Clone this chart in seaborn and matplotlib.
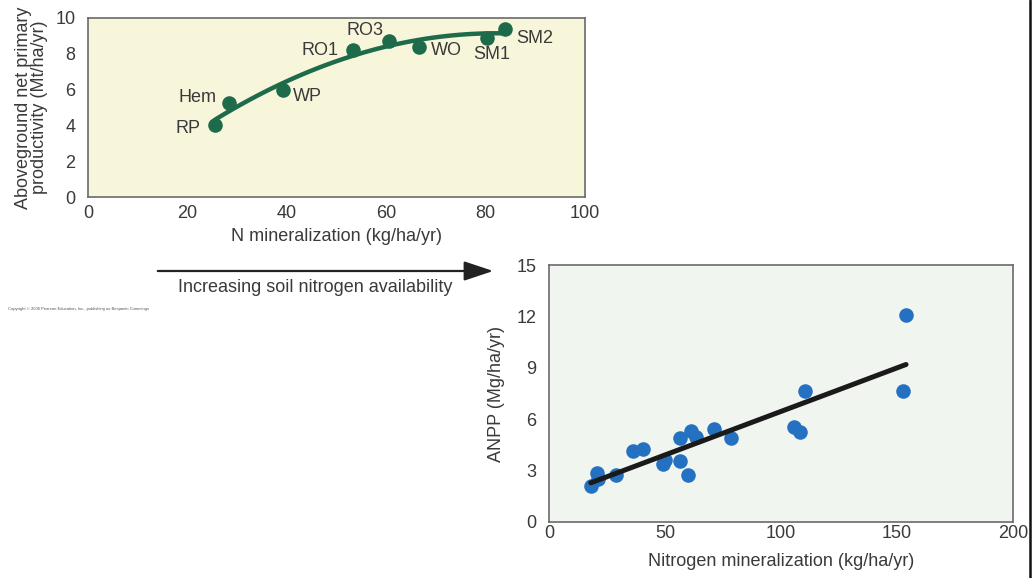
import numpy as np
import pandas as pd
import matplotlib
matplotlib.use("Agg")
import matplotlib.pyplot as plt
import seaborn as sns

# ---- data: top panel (sites) ----
site_names = ["RP", "Hem", "WP", "RO1", "RO3", "WO", "SM1", "SM2"]
site_nmin = [25.5, 28.3, 39.2, 53.3, 60.6, 66.7, 80.2, 84.0]
site_anpp = [4.0, 5.25, 6.0, 8.2, 8.7, 8.4, 8.9, 9.4]

# ---- data: bottom panel ----
nmin_b = [18.0, 20.7, 21.0, 29.0, 36.2, 40.7, 49.1, 49.9, 56.3, 56.3, 59.9,
          61.1, 63.5, 71.3, 78.4, 105.4, 108.4, 110.5, 152.4, 153.9]
anpp_b = [2.08, 2.88, 2.5, 2.76, 4.12, 4.24, 3.40, 3.63, 4.92, 3.54, 2.72,
          5.34, 4.95, 5.42, 4.92, 5.54, 5.25, 7.67, 7.67, 12.08]

top_xticks = [0, 20, 40, 60, 80, 100]
top_yticks = [0, 2, 4, 6, 8, 10]
bot_xticks = [0, 50, 100, 150, 200]
bot_yticks = [0, 3, 6, 9, 12, 15]

sns.set_theme(style="white")
plt.rcParams["font.family"] = ["Liberation Sans", "DejaVu Sans"]

GREEN = "#1d6b4a"
BLUE = "#2471c1"
TXT = "#3a3a3a"
SPINE = "#6a6a6a"

fig = plt.figure(figsize=(10.34, 5.78), dpi=100)
fig.patch.set_facecolor("white")

# ---------- top panel ----------
ax1 = fig.add_axes([88/1034, 1-197/578, 497/1034, 179/578])
ax1.set_facecolor("#f7f5da")
df1 = pd.DataFrame({"x": site_nmin, "y": site_anpp, "name": site_names})
sns.regplot(data=df1, x="x", y="y", order=2, ci=None, ax=ax1,
            scatter_kws=dict(s=110, color=GREEN, zorder=3, linewidths=0, alpha=1),
            line_kws=dict(color=GREEN, lw=3.2, zorder=2))
ax1.set_xlim(0, 100)
ax1.set_ylim(0, 10)
ax1.set_xticks(top_xticks)
ax1.set_yticks(top_yticks)
ax1.set_xlabel("N mineralization (kg/ha/yr)", fontsize=13, color=TXT, labelpad=4)
ax1.set_ylabel("Aboveground net primary\nproductivity (Mt/ha/yr)", fontsize=13,
               color=TXT, labelpad=5, linespacing=0.95)
ax1.tick_params(axis="x", direction="in", length=6, width=1, color=SPINE,
                labelsize=13, labelcolor=TXT, pad=6)
ax1.tick_params(axis="y", direction="out", length=6, width=1, color=SPINE,
                labelsize=13, labelcolor=TXT, pad=3)
for s in ax1.spines.values():
    s.set_color(SPINE)
    s.set_linewidth(1.2)

label_offsets = {"RP": (-28, -2), "Hem": (-36, 4), "WP": (7, -5), "RO1": (-37, 0),
                 "RO3": (-31, 8), "WO": (8, -3), "SM1": (-10, -12), "SM2": (8, -7)}
for n, x, y in zip(site_names, site_nmin, site_anpp):
    ox, oy = label_offsets[n]
    ax1.annotate(n, (x, y), xytext=(ox, oy), textcoords="offset points",
                 fontsize=13, color=TXT, va="center", ha="left")

# ---------- bottom panel ----------
ax2 = fig.add_axes([549/1034, 1-522/578, 464/1034, 257/578])
ax2.set_facecolor("#f1f5ef")
df2 = pd.DataFrame({"x": nmin_b, "y": anpp_b})
sns.regplot(data=df2, x="x", y="y", ci=None, ax=ax2,
            scatter_kws=dict(s=110, color=BLUE, zorder=2, linewidths=0, alpha=1),
            line_kws=dict(color="#1a1a1a", lw=3.6, zorder=3))
ax2.set_xlim(0, 200)
ax2.set_ylim(0, 15)
ax2.set_xticks(bot_xticks)
ax2.set_yticks(bot_yticks)
ax2.set_xlabel("Nitrogen mineralization (kg/ha/yr)", fontsize=13, color=TXT, labelpad=8)
ax2.set_ylabel("ANPP (Mg/ha/yr)", fontsize=13, color=TXT, labelpad=8)
ax2.tick_params(axis="x", length=0, labelsize=13, labelcolor=TXT, pad=2)
ax2.tick_params(axis="y", direction="out", length=6, width=1, color=SPINE,
                labelsize=13, labelcolor=TXT, pad=3)
for s in ax2.spines.values():
    s.set_color(SPINE)
    s.set_linewidth(1.2)

# ---------- arrow and text ----------
fig.patches.append(matplotlib.patches.FancyArrowPatch(
    (155/1034, 1-271/578), (496/1034, 1-271/578), transform=fig.transFigure,
    arrowstyle="-|>,head_length=12,head_width=4", color="#222222", lw=1.6,
    mutation_scale=1.5))
fig.text(315/1034, 1-288/578, "Increasing soil nitrogen availability",
         ha="center", va="center", fontsize=13, color=TXT)
fig.text(8/1034, 1-309/578,
         "Copyright \u00a9 2006 Pearson Education, Inc., publishing as Benjamin Cummings",
         ha="left", va="center", fontsize=3, color="#555555")

# right border line
fig.add_artist(matplotlib.lines.Line2D([1029.5/1034, 1029.5/1034], [0, 1],
                                       transform=fig.transFigure, color="#111111", lw=1.8))

fig.savefig("out.png", dpi=100)
